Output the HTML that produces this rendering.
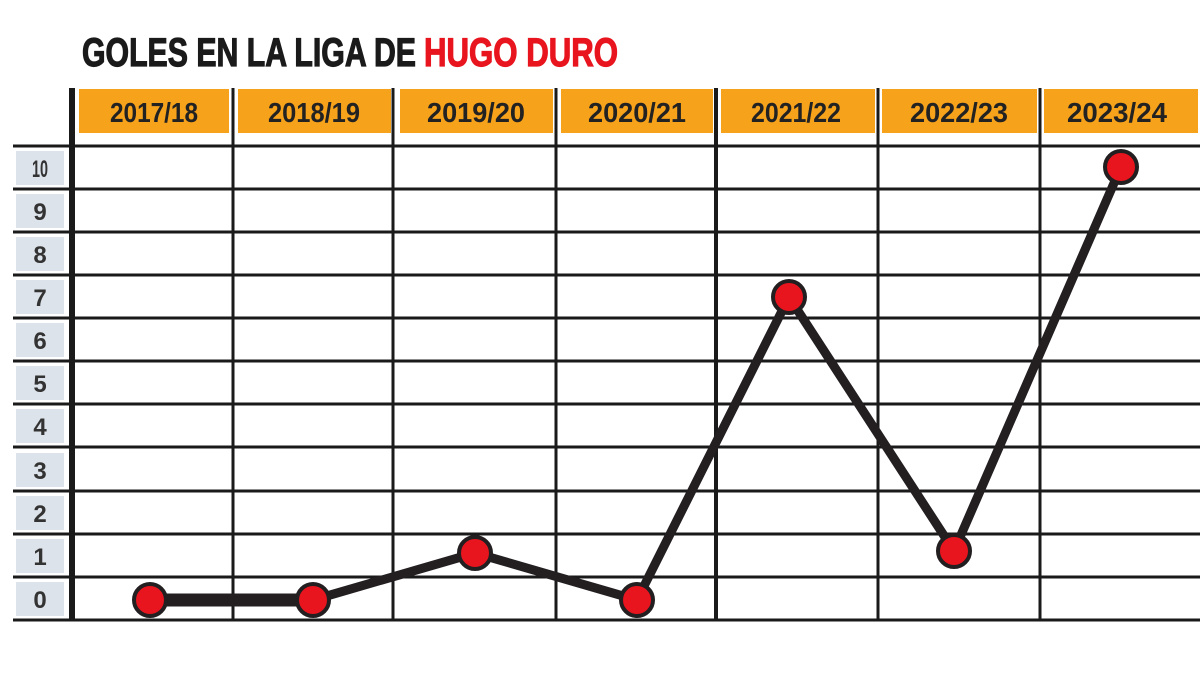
<!DOCTYPE html>
<html><head><meta charset="utf-8"><style>
body{margin:0;background:#fff;}
svg text{font-family:"Liberation Sans Narrow","Liberation Sans",sans-serif;font-weight:bold;}
</style></head><body>
<svg width="1200" height="675" viewBox="0 0 1200 675" xmlns="http://www.w3.org/2000/svg">
<rect width="1200" height="675" fill="#fff"/>
<text x="82" y="66" font-size="40" fill="#1a1a1a" stroke="#1a1a1a" stroke-width="1.2" textLength="334" lengthAdjust="spacingAndGlyphs">GOLES EN LA LIGA DE</text>
<text x="424" y="66" font-size="40" fill="#e8141e" stroke="#e8141e" stroke-width="1.2" textLength="194" lengthAdjust="spacingAndGlyphs">HUGO DURO</text>
<g fill="#f7a21b">
<rect x="79" y="89" width="150" height="44"/><rect x="238" y="89" width="153" height="44"/>
<rect x="400" y="89" width="153" height="44"/><rect x="561" y="89" width="152" height="44"/>
<rect x="721" y="89" width="154" height="44"/><rect x="882" y="89" width="155" height="44"/>
<rect x="1044" y="89" width="154" height="44"/>
</g>
<g font-size="28" fill="#222" text-anchor="middle" lengthAdjust="spacingAndGlyphs">
<text x="154" y="122" textLength="88" lengthAdjust="spacingAndGlyphs">2017/18</text><text x="314" y="122" textLength="92" lengthAdjust="spacingAndGlyphs">2018/19</text><text x="476" y="122" textLength="98" lengthAdjust="spacingAndGlyphs">2019/20</text>
<text x="637" y="122" textLength="98" lengthAdjust="spacingAndGlyphs">2020/21</text><text x="796" y="122" textLength="90" lengthAdjust="spacingAndGlyphs">2021/22</text><text x="959" y="122" textLength="98" lengthAdjust="spacingAndGlyphs">2022/23</text><text x="1117" y="122" textLength="100" lengthAdjust="spacingAndGlyphs">2023/24</text>
</g>
<g fill="#dde3ea">
<rect x="16" y="151" width="48" height="34"/><rect x="16" y="194" width="48" height="34"/><rect x="16" y="237" width="48" height="34"/>
<rect x="16" y="280" width="48" height="34"/><rect x="16" y="323" width="48" height="34"/><rect x="16" y="366" width="48" height="34"/>
<rect x="16" y="409" width="48" height="34"/><rect x="16" y="453" width="48" height="34"/><rect x="16" y="496" width="48" height="34"/>
<rect x="16" y="539" width="48" height="34"/><rect x="16" y="582" width="48" height="34"/>
</g>
<g font-size="24" fill="#333" text-anchor="middle" style="font-weight:normal">
<text x="40" y="177" textLength="16" lengthAdjust="spacingAndGlyphs">10</text><text x="40" y="220">9</text><text x="40" y="263">8</text><text x="40" y="306">7</text>
<text x="40" y="349">6</text><text x="40" y="392">5</text><text x="40" y="435">4</text><text x="40" y="479">3</text>
<text x="40" y="522">2</text><text x="40" y="565">1</text><text x="40" y="608">0</text>
</g>
<g stroke="#1a1a1a" stroke-width="3">
<line x1="13" y1="146" x2="1200" y2="146"/><line x1="13" y1="189" x2="1200" y2="189"/><line x1="13" y1="232" x2="1200" y2="232"/>
<line x1="13" y1="275" x2="1200" y2="275"/><line x1="13" y1="318" x2="1200" y2="318"/><line x1="13" y1="361" x2="1200" y2="361"/>
<line x1="13" y1="404" x2="1200" y2="404"/><line x1="13" y1="447" x2="1200" y2="447"/><line x1="13" y1="491" x2="1200" y2="491"/>
<line x1="13" y1="534" x2="1200" y2="534"/><line x1="13" y1="577" x2="1200" y2="577"/><line x1="13" y1="620" x2="1200" y2="620"/>
<line x1="233" y1="88" x2="233" y2="620"/><line x1="393" y1="88" x2="393" y2="620"/><line x1="556" y1="88" x2="556" y2="620"/>
<line x1="878" y1="88" x2="878" y2="620"/><line x1="1040" y1="88" x2="1040" y2="620"/>
</g>
<line x1="716" y1="88" x2="716" y2="620" stroke="#1a1a1a" stroke-width="4"/>
<line x1="72" y1="88" x2="72" y2="620" stroke="#1a1a1a" stroke-width="6"/>
<polyline points="150,600 313,600 475,553 637,600 789,297 954,551 1121,167" fill="none" stroke="#231f20" stroke-width="9" stroke-linejoin="round"/>
<line x1="150" y1="600" x2="313" y2="600" stroke="#231f20" stroke-width="13"/>
<g fill="#e8141e" stroke="#231f20" stroke-width="4">
<circle cx="150" cy="600" r="16"/><circle cx="313" cy="600" r="16"/><circle cx="475" cy="553" r="16"/>
<circle cx="637" cy="600" r="16"/><circle cx="789" cy="297" r="16"/><circle cx="954" cy="551" r="16"/><circle cx="1121" cy="167" r="16"/>
</g>
</svg>
</body></html>
